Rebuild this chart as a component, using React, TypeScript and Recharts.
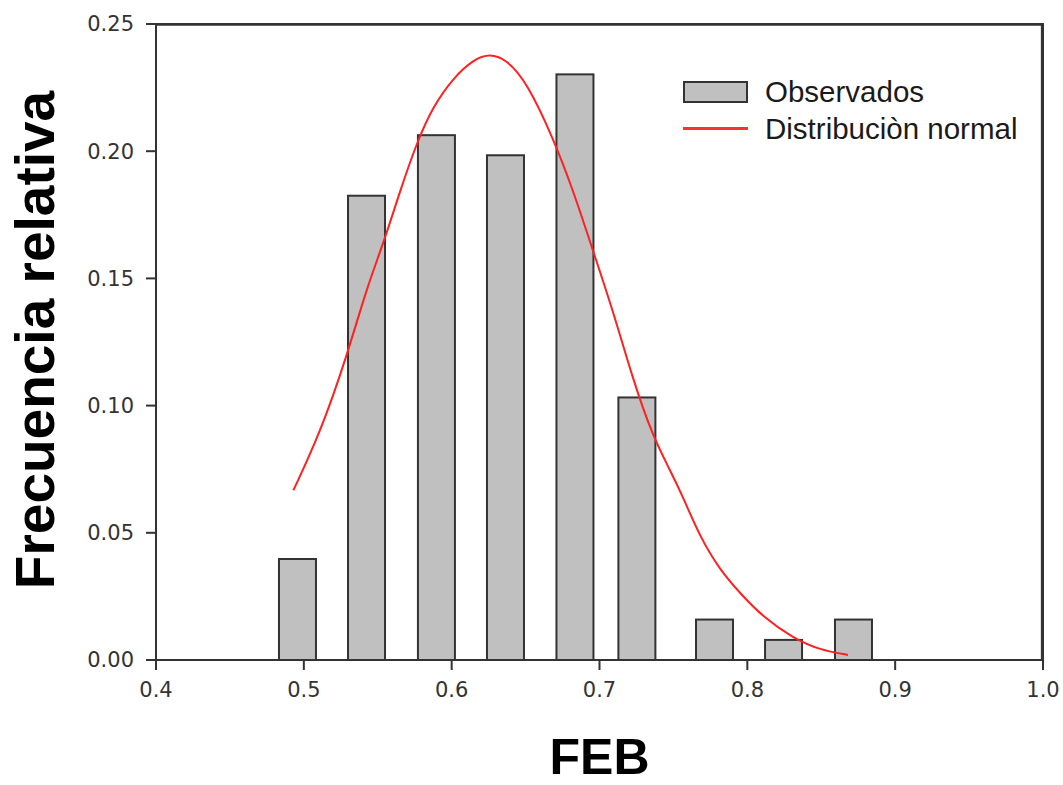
import { ComposedChart, Bar, Line, XAxis, YAxis, ReferenceLine } from 'recharts'

// centros de clase (FEB) y frecuencia relativa observada
const clases = [0.4957, 0.5424, 0.5897, 0.6364, 0.6834, 0.7253, 0.7778, 0.8245, 0.8718]
const observados = [0.0397, 0.1825, 0.2063, 0.1984, 0.2302, 0.1032, 0.0159, 0.0079, 0.0159]

// curva normal
const curvaX = [
  0.4929, 0.5109, 0.529, 0.5425, 0.5538, 0.5651, 0.5764, 0.5876, 0.6011, 0.6146, 0.6259,
  0.6372, 0.6508, 0.6688, 0.6823, 0.6958, 0.7094, 0.7227, 0.7362, 0.7477, 0.7565, 0.768,
  0.7815, 0.795, 0.8106, 0.8309, 0.8492, 0.8681,
]
const curvaY = [
  0.0667, 0.089, 0.1192, 0.1462, 0.1637, 0.1844, 0.2034, 0.2178, 0.2288, 0.236, 0.2384,
  0.236, 0.2272, 0.205, 0.1844, 0.1605, 0.1368, 0.1101, 0.0877, 0.0747, 0.0641, 0.0483,
  0.0354, 0.0263, 0.0169, 0.0086, 0.0039, 0.002,
]

const ticksX = [0.4, 0.5, 0.6, 0.7, 0.8, 0.9, 1.0]
const ticksY = [0, 0.05, 0.1, 0.15, 0.2, 0.25]

const barras = clases.map((x, i) => ({ x, obs: observados[i] }))
const curva = curvaX.map((x, i) => ({ x, normal: curvaY[i] }))

const EJE = '#333333'
const FUENTE = '"Liberation Sans", Arial, sans-serif'
const ANCHO_BARRA = 37

// barra centrada en su valor x (el eje numerico no le da ancho)
const Barra = (props: any) => {
  const { x, y, width, height } = props
  if (height == null || height <= 0) return null
  const cx = x + width / 2
  return (
    <rect
      x={cx - ANCHO_BARRA / 2}
      y={y}
      width={ANCHO_BARRA}
      height={height}
      fill="#c0c0c0"
      stroke={EJE}
      strokeWidth={2}
    />
  )
}

const YLabel = ({ viewBox }: any) => {
  const cy = viewBox.y + viewBox.height / 2 - 2
  const cx = 35
  return (
    <text
      x={cx}
      y={cy}
      transform={`rotate(-90 ${cx} ${cy})`}
      textAnchor="middle"
      dominantBaseline="central"
      fontFamily={FUENTE}
      fontWeight="bold"
      fontSize={55}
      fill="#000"
    >
      Frecuencia relativa
    </text>
  )
}

const XLabel = ({ viewBox }: any) => (
  <text
    x={viewBox.x + viewBox.width / 2}
    y={774}
    textAnchor="middle"
    fontFamily={FUENTE}
    fontWeight="bold"
    fontSize={50}
    fill="#000"
  >
    FEB
  </text>
)

function Leyenda() {
  return (
    <div
      style={{
        position: 'absolute',
        left: 683,
        top: 73,
        fontFamily: FUENTE,
        fontSize: 29.5,
        color: '#1a1a1a',
        lineHeight: '37px',
      }}
    >
      <div style={{ display: 'flex', alignItems: 'center' }}>
        <span
          style={{
            display: 'inline-block',
            width: 61,
            height: 18,
            background: '#c0c0c0',
            border: `2px solid ${EJE}`,
            marginRight: 17,
          }}
        />
        Observados
      </div>
      <div style={{ display: 'flex', alignItems: 'center' }}>
        <span
          style={{
            display: 'inline-block',
            width: 65,
            height: 3,
            background: '#ff3030',
            marginRight: 17,
          }}
        />
        Distribuciòn normal
      </div>
    </div>
  )
}

export default function App() {
  const tick = { fontSize: 21, fill: '#333', fontFamily: '"DejaVu Sans", Verdana, sans-serif' }
  return (
    <div style={{ position: 'absolute', left: 0, top: 0, width: 1063, height: 785, background: '#fff' }}>
      <ComposedChart
        width={1063}
        height={785}
        data={barras}
        margin={{ top: 24, right: 20, bottom: 0, left: 0 }}
      >
        <XAxis
          dataKey="x"
          type="number"
          domain={[0.4, 1.0]}
          ticks={ticksX}
          tickFormatter={(v: number) => v.toFixed(1)}
          allowDataOverflow
          height={125}
          stroke={EJE}
          strokeWidth={2}
          tickSize={10}
          tickMargin={12}
          tick={tick}
          label={<XLabel />}
        />
        <YAxis
          type="number"
          domain={[0, 0.25]}
          ticks={ticksY}
          tickFormatter={(v: number) => v.toFixed(2)}
          allowDataOverflow
          width={156}
          stroke={EJE}
          strokeWidth={2}
          tickSize={10}
          tickMargin={12}
          tick={tick}
          label={<YLabel />}
        />
        {/* marco superior y derecho, justo dentro del area */}
        <ReferenceLine
          segment={[{ x: 0.4, y: 0.2498 }, { x: 1.0, y: 0.2498 }]}
          stroke={EJE}
          strokeWidth={2.5}
          ifOverflow="visible"
        />
        <ReferenceLine
          segment={[{ x: 0.9994, y: 0 }, { x: 0.9994, y: 0.25 }]}
          stroke={EJE}
          strokeWidth={2.5}
          ifOverflow="visible"
        />
        <Bar dataKey="obs" shape={<Barra />} isAnimationActive={false} />
        <Line
          data={curva}
          dataKey="normal"
          type="basis"
          stroke="#ff2020"
          strokeWidth={2}
          dot={false}
          isAnimationActive={false}
        />
      </ComposedChart>
      <svg
        width={1063}
        height={785}
        style={{ position: 'absolute', left: 0, top: 0, zIndex: 5, pointerEvents: 'none' }}
      >
        <polyline points="156,24 1043,24 1043,660" fill="none" stroke={EJE} strokeWidth={2} />
      </svg>
      <Leyenda />
    </div>
  )
}
